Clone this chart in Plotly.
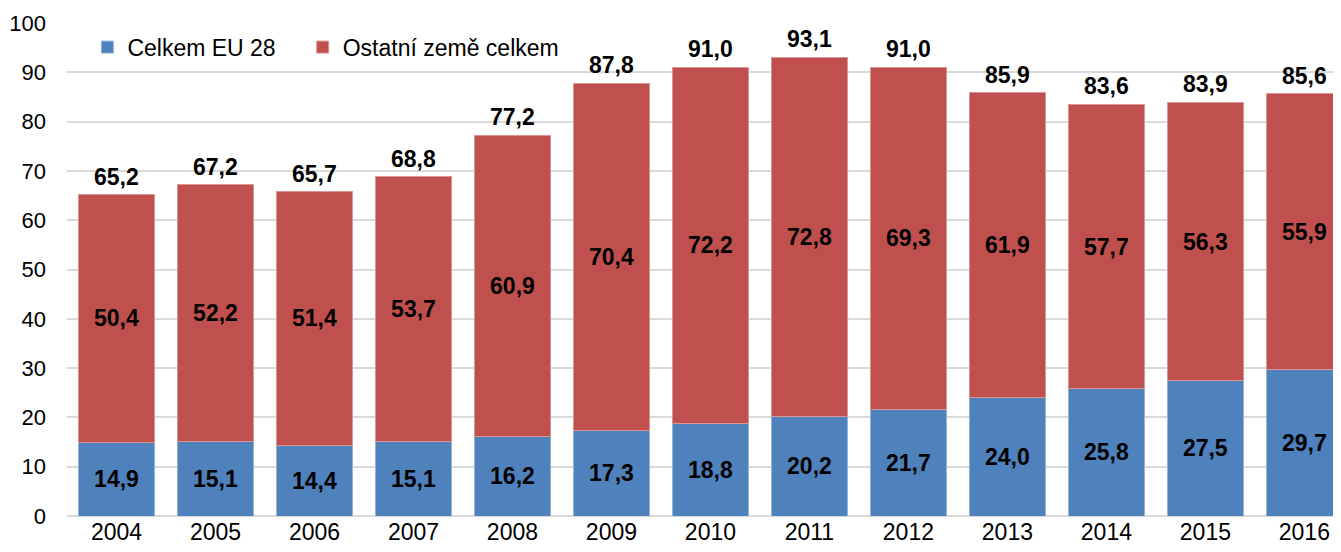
import plotly.graph_objects as go

# Data
years = ['2004', '2005', '2006', '2007', '2008', '2009', '2010',
         '2011', '2012', '2013', '2014', '2015', '2016']
eu28 = [14.9, 15.1, 14.4, 15.1, 16.2, 17.3, 18.8, 20.2, 21.7, 24.0, 25.8, 27.5, 29.7]
ostatni = [50.4, 52.2, 51.4, 53.7, 60.9, 70.4, 72.2, 72.8, 69.3, 61.9, 57.7, 56.3, 55.9]
celkem = [65.2, 67.2, 65.7, 68.8, 77.2, 87.8, 91.0, 93.1, 91.0, 85.9, 83.6, 83.9, 85.6]

font_name = 'Liberation Sans, Arial, sans-serif'
lbl_font = dict(size=23, color='black', family=font_name, weight='bold')

fig = go.Figure()

fig.add_trace(go.Bar(
    x=years, y=eu28, name='Celkem EU 28', legend='legend', showlegend=True,
    marker=dict(color='#4F81BD', line=dict(color='#95B3D7', width=1)),
    texttemplate='%{y:.1f}', textposition='inside', insidetextanchor='middle',
    textfont=lbl_font, textangle=0,
))
fig.add_trace(go.Bar(
    x=years, y=ostatni, name='Ostatní země celkem', legend='legend2', showlegend=True,
    marker=dict(color='#C0504D', line=dict(color='#DA9694', width=1)),
    texttemplate='%{y:.1f}', textposition='inside', insidetextanchor='middle',
    textfont=lbl_font, textangle=0,
))

# totals above the bars (x given as category index)
for i, tot in enumerate(celkem):
    fig.add_annotation(x=i, y=tot, xref='x', yref='y',
                       text=f'{tot:.1f}'.replace('.', ','),
                       showarrow=False, yanchor='bottom', yshift=3,
                       font=lbl_font)

leg = dict(orientation='h', y=0.951, xanchor='left', yanchor='middle',
           bgcolor='rgba(0,0,0,0)', font=dict(size=23), itemwidth=30,
           visible=True)

# the page body adds an 8px offset, so the figure is 8px smaller
fig.update_layout(
    width=1333, height=544,
    showlegend=True,
    barmode='stack', bargap=0.23,
    separators=', ',
    uniformtext=dict(minsize=23, mode='show'),
    plot_bgcolor='white', paper_bgcolor='white',
    margin=dict(l=59, r=0, t=15, b=36),
    font=dict(family=font_name, size=23, color='black'),
    legend=dict(leg, x=0.016),
    legend2=dict(leg, x=0.185),
    xaxis=dict(type='category', range=[-0.5, 12.37], showgrid=False, showline=False,
               ticks='', tickfont=dict(size=23), automargin=False),
    yaxis=dict(range=[0, 100], dtick=10, showgrid=True, gridcolor='#D9D9D9',
               gridwidth=1.5, zeroline=True, zerolinecolor='#D9D9D9',
               zerolinewidth=1.5, showline=False, ticks='', ticklabelstandoff=20,
               tickfont=dict(size=22), automargin=False),
)

fig.write_html("out.html")
